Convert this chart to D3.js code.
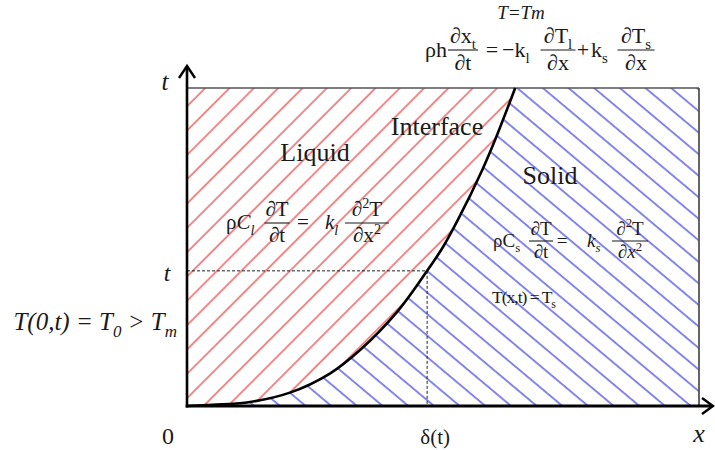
<!DOCTYPE html>
<html>
<head>
<meta charset="utf-8">
<script src="https://cdn.jsdelivr.net/npm/d3@7"></script>
<style>
  body { margin: 0; background: #fff; }
  svg { display: block; }
  text { font-family: "Liberation Serif", "DejaVu Serif", serif; fill: #1a1a1a; }
</style>
</head>
<body>
<div id="main"></div>
<script>
// interface position x(t) (x and t both 0..1 of the box)
const interfaceX = [0, 0.05, 0.117, 0.201, 0.279, 0.338, 0.41, 0.469, 0.5, 0.529, 0.576, 0.605, 0.641];
const interfaceT = [0, 0.004, 0.011, 0.042, 0.102, 0.176, 0.295, 0.425, 0.5, 0.585, 0.74, 0.85, 1.0];
// the marked instant t and delta(t)
const markT = 0.425;
const markX = 0.469;
const regionLabels = ["Liquid", "Interface", "Solid"];
const axisLabels = ["0", "δ(t)", "x", "t"];

const W = 715, H = 450;
const svg = d3.select("#main").append("svg").attr("width", W).attr("height", H);

const x = d3.scaleLinear().domain([0, 1]).range([187, 699]);
const y = d3.scaleLinear().domain([0, 1]).range([406, 88]);

const pts = interfaceX.map((d, i) => [d, interfaceT[i]]);

// hatch patterns
const defs = svg.append("defs");
defs.append("pattern")
  .attr("id", "red")
  .attr("patternUnits", "userSpaceOnUse")
  .attr("width", 17.2).attr("height", 20)
  .attr("patternTransform", "rotate(45)")
  .append("line")
  .attr("x1", 1).attr("y1", 0).attr("x2", 1).attr("y2", 20)
  .attr("stroke", "#ea3c3c").attr("stroke-width", 1.2);
defs.append("pattern")
  .attr("id", "blue")
  .attr("patternUnits", "userSpaceOnUse")
  .attr("width", 16.5).attr("height", 20)
  .attr("patternTransform", "rotate(-50)")
  .append("line")
  .attr("x1", 1).attr("y1", 0).attr("x2", 1).attr("y2", 20)
  .attr("stroke", "#4646e4").attr("stroke-width", 1.3);

const smooth = d3.line().x(d => x(d[0])).y(d => y(d[1])).curve(d3.curveCatmullRom);
const straight = d3.line().x(d => x(d[0])).y(d => y(d[1]));

// liquid region: left axis + interface
const liquid = [[0, 0], [0, 1]].concat(pts.slice().reverse());
svg.append("path").attr("d", straight(liquid)).attr("fill", "url(#red)");
// solid region: interface + right side
const solid = pts.concat([[1, 1], [1, 0]]);
svg.append("path").attr("d", straight(solid)).attr("fill", "url(#blue)");

// box: top and right thin
svg.append("line").attr("x1", x(0)).attr("x2", x(1)).attr("y1", y(1)).attr("y2", y(1))
  .attr("stroke", "#555").attr("stroke-width", 1.6);
svg.append("line").attr("x1", x(1)).attr("x2", x(1)).attr("y1", y(1)).attr("y2", y(0))
  .attr("stroke", "#555").attr("stroke-width", 1.8);

// dashed markers
svg.append("line").attr("x1", x(0)).attr("x2", x(markX)).attr("y1", y(markT)).attr("y2", y(markT))
  .attr("stroke", "#222").attr("stroke-width", 1).attr("stroke-dasharray", "3,2");
svg.append("line").attr("x1", x(markX)).attr("x2", x(markX)).attr("y1", y(markT)).attr("y2", y(0))
  .attr("stroke", "#222").attr("stroke-width", 1).attr("stroke-dasharray", "3,2");

// interface curve
svg.append("path").attr("d", smooth(pts)).attr("fill", "none")
  .attr("stroke", "#000").attr("stroke-width", 2.6);

// axes with arrows
svg.append("line").attr("x1", x(0)).attr("x2", x(0)).attr("y1", y(0) + 1.5).attr("y2", 66)
  .attr("stroke", "#000").attr("stroke-width", 2.6);
svg.append("line").attr("x1", x(0) - 1.3).attr("x2", 712).attr("y1", y(0)).attr("y2", y(0))
  .attr("stroke", "#000").attr("stroke-width", 3);
svg.append("path").attr("d", `M${x(0) - 8},78 L${x(0)},66 L${x(0) + 8},78`)
  .attr("fill", "none").attr("stroke", "#000").attr("stroke-width", 2.4);
svg.append("path").attr("d", `M702,${y(0) - 8} L713,${y(0)} L702,${y(0) + 8}`)
  .attr("fill", "none").attr("stroke", "#000").attr("stroke-width", 2.4);

// rich text helper: parts = [{t, i, sub, sup}]
function rich(tx, parts, size) {
  let cur = 0;
  parts.forEach(p => {
    const off = p.sub ? 0.28 * size : p.sup ? -0.4 * size : 0;
    const ts = tx.append("tspan").text(p.t).attr("dy", off - cur);
    if (p.sub || p.sup) ts.attr("font-size", size * 0.68);
    if (p.i) ts.attr("font-style", "italic");
    cur = off;
  });
  return tx;
}
function label(px, py, parts, size, anchor) {
  const t = svg.append("text").attr("x", px).attr("y", py)
    .attr("font-size", size).attr("text-anchor", anchor || "start");
  return rich(t, parts, size);
}
function frac(cx, ly, w, num, den, size) {
  svg.append("line").attr("x1", cx - w / 2).attr("x2", cx + w / 2)
    .attr("y1", ly).attr("y2", ly).attr("stroke", "#1a1a1a").attr("stroke-width", 1.1);
  label(cx, ly - 0.33 * size, num, size, "middle");
  label(cx, ly + 0.92 * size, den, size, "middle");
}

// top: Stefan condition
label(521, 19, [{t: "T=Tm", i: true}], 19, "middle");
const s1 = 22;
label(447, 57, [{t: "ρh"}], s1, "end");
frac(463, 50, 30, [{t: "∂x"}, {t: "t", sub: true}], [{t: "∂t"}], s1);
label(492, 57, [{t: "="}], s1, "middle");
label(502, 57, [{t: "−k"}, {t: "l", sub: true}], s1);
frac(558, 50, 35, [{t: "∂T"}, {t: "l", sub: true}], [{t: "∂x"}], s1);
label(583, 57, [{t: "+"}], s1, "middle");
label(591, 57, [{t: "k"}, {t: "s", sub: true}], s1);
frac(636, 50, 37, [{t: "∂T"}, {t: "s", sub: true}], [{t: "∂x"}], s1);

// region labels
label(315, 161, [{t: regionLabels[0]}], 26, "middle");
label(437, 135, [{t: regionLabels[1]}], 26, "middle");
label(550, 184, [{t: regionLabels[2]}], 26, "middle");

// liquid heat equation
const s2 = 21;
label(226, 229, [{t: "ρ"}, {t: "C", i: true}, {t: "l", i: true, sub: true}], s2);
frac(277, 223, 25, [{t: "∂T"}], [{t: "∂t"}], s2);
label(303, 229, [{t: "="}], s2, "middle");
label(325, 229, [{t: "k", i: true}, {t: "l", i: true, sub: true}], s2);
frac(367, 223, 44, [{t: "∂"}, {t: "2", sup: true}, {t: "T"}], [{t: "∂x"}, {t: "2", sup: true}], s2);

// solid heat equation
const s3 = 19;
label(493, 247, [{t: "ρC"}, {t: "s", sub: true}], s3);
frac(541, 241, 24, [{t: "∂T"}], [{t: "∂t"}], s3);
label(562, 247, [{t: "="}], s3, "middle");
label(587, 247, [{t: "k", i: true}, {t: "s", i: true, sub: true}], s3);
frac(630, 241, 36, [{t: "∂"}, {t: "2", sup: true}, {t: "T"}], [{t: "∂"}, {t: "x", i: true}, {t: "2", sup: true}], s3);
label(492, 303, [{t: "T(x,t) = T"}, {t: "s", sub: true}], 17.5).attr("letter-spacing", -1);

// boundary condition and axis labels
label(177, 330, [{t: "T(0,t) = T", i: true}, {t: "0", i: true, sub: true}, {t: " > T", i: true}, {t: "m", i: true, sub: true}], 25, "end");
label(165, 90, [{t: axisLabels[3], i: true}], 25, "middle");
label(167, y(markT) + 10, [{t: axisLabels[3], i: true}], 24, "middle");
label(168, 444, [{t: axisLabels[0]}], 24, "middle");
label(x(markX) + 8, 444, [{t: axisLabels[1]}], 21, "middle");
label(699, 442, [{t: axisLabels[2], i: true}], 26, "middle");
</script>
</body>
</html>
